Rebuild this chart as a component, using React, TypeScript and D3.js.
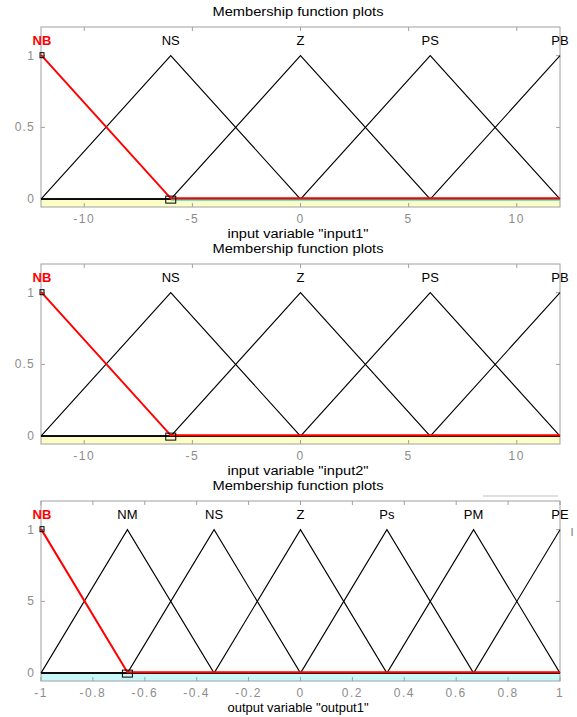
import React from "react";
import * as d3 from "d3";

// ---- data ----
const inputLabels = ["NB", "NS", "Z", "PS", "PB"];
const inputParams: number[][] = [
  [-18, -12, -6],
  [-12, -6, 0],
  [-6, 0, 6],
  [0, 6, 12],
  [6, 12, 18],
];
const inputTicks = [-10, -5, 0, 5, 10];
const inputTickLabels = ["-10", "-5", "0", "5", "10"];

const outputLabels = ["NB", "NM", "NS", "Z", "Ps", "PM", "PE"];
const outputParams: number[][] = [
  [-1.333, -1, -0.667],
  [-1, -0.667, -0.333],
  [-0.667, -0.333, 0],
  [-0.333, 0, 0.333],
  [0, 0.333, 0.667],
  [0.333, 0.667, 1],
  [0.667, 1, 1.333],
];
const outputTicks = [-1, -0.8, -0.6, -0.4, -0.2, 0, 0.2, 0.4, 0.6, 0.8, 1];
const outputTickLabels = ["-1", "-0.8", "-0.6", "-0.4", "-0.2", "0", "0.2", "0.4", "0.6", "0.8", "1"];

const yTicks = [0, 0.5, 1];
const yTickLabelsInput = ["0", "0.5", "1"];
const yTickLabelsOutput = ["0", "5", "1"];

const W = 577;
const H = 717;
const BOX_L = 41;
const BOX_R = 560;
const BOX_H = 180;
const FONT = "Arial, 'Liberation Sans', Helvetica, sans-serif";

type PanelProps = {
  top: number;
  domain: [number, number];
  labels: string[];
  params: number[][];
  ticks: number[];
  tickLabels: string[];
  yLabels: string[];
  axisLabel: string;
  band: string;
  cyanZero?: boolean;
};

function trimf(x: number, p: number[]) {
  const [a, b, c] = p;
  if (x <= a || x >= c) return x === b ? 1 : 0;
  if (x <= b) return b === a ? 1 : (x - a) / (b - a);
  return c === b ? 1 : (c - x) / (c - b);
}

function Panel(props: PanelProps) {
  const { top, domain, labels, params, ticks, tickLabels, yLabels, axisLabel, band, cyanZero } = props;
  const x = d3.scaleLinear().domain(domain).range([BOX_L, BOX_R]);
  const y = d3.scaleLinear().domain([-0.055, 1.2]).range([top + BOX_H, top]);
  const bottom = top + BOX_H;
  const line = d3
    .line<[number, number]>()
    .x((d) => x(d[0]))
    .y((d) => y(d[1]));

  const mfPoints = (p: number[]): [number, number][] => {
    const xs = [domain[0], ...p.filter((v) => v > domain[0] && v < domain[1]), domain[1]];
    const uniq = Array.from(new Set(xs)).sort((a, b) => a - b);
    return uniq.map((v) => [v, trimf(v, p)] as [number, number]);
  };

  return (
    <g>
      <text x={298} y={top - 11} fontSize={12} fontFamily={FONT} textAnchor="middle" fill="#000"
        textLength={171} lengthAdjust="spacingAndGlyphs">
        Membership function plots
      </text>
      {/* band below zero */}
      <rect x={BOX_L} y={y(0)} width={BOX_R - BOX_L} height={bottom - y(0)} fill={band} />
      {/* box */}
      <rect x={BOX_L} y={top} width={BOX_R - BOX_L} height={BOX_H} fill="none" stroke="#a0a0a0" strokeWidth={1} />
      {/* x ticks */}
      {ticks.map((t, i) => (
        <g key={"xt" + i}>
          <line x1={x(t)} x2={x(t)} y1={top} y2={top + 4} stroke="#a0a0a0" />
          <line x1={x(t)} x2={x(t)} y1={bottom} y2={bottom - 4} stroke="#a0a0a0" />
          <text x={x(t)} y={bottom + 16} fontSize={12} fontFamily={FONT} textAnchor="middle" fill="#8c8c8c"
            letterSpacing={1.5}>
            {tickLabels[i]}
          </text>
        </g>
      ))}
      {/* y ticks */}
      {yTicks.map((t, i) => (
        <g key={"yt" + i}>
          <line x1={BOX_L} x2={BOX_L + 4} y1={y(t)} y2={y(t)} stroke="#a0a0a0" />
          <line x1={BOX_R} x2={BOX_R - 4} y1={y(t)} y2={y(t)} stroke="#a0a0a0" />
          <text x={35} y={y(t) + 4} fontSize={12} fontFamily={FONT} textAnchor="end" fill="#8c8c8c"
            letterSpacing={1.2}>
            {yLabels[i]}
          </text>
        </g>
      ))}
      {/* black MFs */}
      {params.slice(1).map((p, i) => (
        <path key={"mf" + i} d={line(mfPoints(p)) || ""} fill="none" stroke="#000" strokeWidth={1.1} />
      ))}
      <line x1={x(domain[0])} x2={x(domain[1])} y1={y(0)} y2={y(0)} stroke="#111" strokeWidth={1.5} />
      {cyanZero && (
        <line x1={x(params[0][2])} x2={x(domain[1])} y1={y(0) + 1} y2={y(0) + 1} stroke="#40e0c8" strokeWidth={1.5} />
      )}
      {/* highlighted NB */}
      <path d={line(mfPoints(params[0])) || ""} fill="none" stroke="#ff0000" strokeWidth={2}
        transform="translate(0,-0.8)" />
      {/* markers */}
      <rect x={x(params[0][1]) - 1} y={y(1) - 3} width={4} height={5} fill="none" stroke="#000" strokeWidth={1} />
      <rect x={x(params[0][2]) - 5} y={y(0) - 3} width={10} height={7} fill="none" stroke="#000" strokeWidth={1} />
      {/* MF labels */}
      {labels.map((l, i) => (
        <text key={"lb" + i} x={x(params[i][1]) + (i === 0 ? 1 : 0)} y={top + 18} fontSize={13} fontFamily={FONT}
          textAnchor="middle" fill={i === 0 ? "#ff0000" : "#000"} fontWeight={i === 0 ? "bold" : "normal"}>
          {l}
        </text>
      ))}
      <text x={298} y={bottom + 31} fontSize={12} fontFamily={FONT} textAnchor="middle" fill="#000"
        textLength={141} lengthAdjust="spacingAndGlyphs">
        {axisLabel}
      </text>
    </g>
  );
}

export default function App() {
  return (
    <svg width={W} height={H} style={{ position: "absolute", left: 0, top: 0, background: "#fff" }}>
      <rect x={0} y={0} width={W} height={H} fill="#fff" />
      <Panel top={27} domain={[-12, 12]} labels={inputLabels} params={inputParams} ticks={inputTicks}
        tickLabels={inputTickLabels} yLabels={yTickLabelsInput} axisLabel={'input variable "input1"'}
        band="#fdfdc8" cyanZero />
      <Panel top={264} domain={[-12, 12]} labels={inputLabels} params={inputParams} ticks={inputTicks}
        tickLabels={inputTickLabels} yLabels={yTickLabelsInput} axisLabel={'input variable "input2"'}
        band="#fdfdc8" />
      <Panel top={501} domain={[-1, 1]} labels={outputLabels} params={outputParams} ticks={outputTicks}
        tickLabels={outputTickLabels} yLabels={yTickLabelsOutput} axisLabel={'output variable "output1"'}
        band="#c8f8f8" />
      <line x1={483} x2={558} y1={496} y2={496} stroke="#c0c0c0" strokeWidth={1.2} />
      <text x={572} y={536} fontSize={11} fontFamily={FONT} fill="#777" textAnchor="middle">I</text>
    </svg>
  );
}
